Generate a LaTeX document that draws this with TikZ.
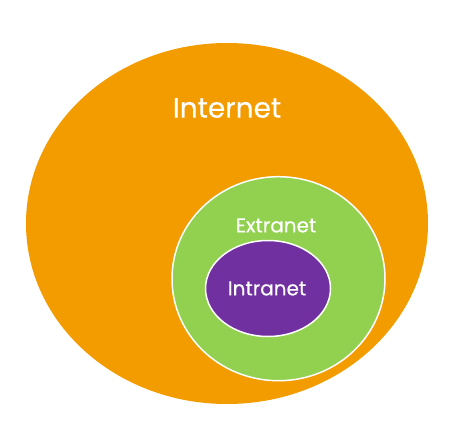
\documentclass[tikz,border=0pt]{standalone}
\usepackage{fontspec}
\setmainfont{Poppins}
\newfontfamily\zoneFont{Poppins}[FakeBold=0.5]
\usetikzlibrary{positioning,shapes.geometric}
\definecolor{netOrange}{HTML}{F39C00}
\definecolor{netGreen}{HTML}{92D050}
\definecolor{netPurple}{HTML}{7030A0}
\tikzset{%
  % zones and their labels
    zone/.style = {ellipse, inner sep=0, outer sep=0},
    innerZone/.style = {zone, draw=white, line width=1.5pt},
    zoneLabel/.style = {text=white, inner sep=0},
}

\begin{document}
\begin{tikzpicture}[x=1pt, y=-1pt]
	\useasboundingbox[fill=white] (0,0) rectangle (465,438);

	\node [zone, fill=netOrange, minimum width=402pt, minimum height=361pt] (internet) at (227,223.5) {};
	\node [innerZone, fill=netGreen, minimum width=213pt, minimum height=204pt] (extranet) at (278.5,278.7) {};
	\node [innerZone, fill=netPurple, minimum width=125pt, minimum height=96pt] (intranet) at (268,288.5) {};

	\node [zoneLabel, font=\zoneFont\fontsize{28}{30}\selectfont] (internetLabel) at (227,108) {Internet};
	\node [zoneLabel, font=\zoneFont\fontsize{20}{22}\selectfont] (extranetLabel) at (276,225.5) {Extranet};
	\node [zoneLabel, font=\zoneFont\fontsize{20}{22}\selectfont] (intranetLabel) at (267,288.5) {Intranet};

\end{tikzpicture}
\end{document}
